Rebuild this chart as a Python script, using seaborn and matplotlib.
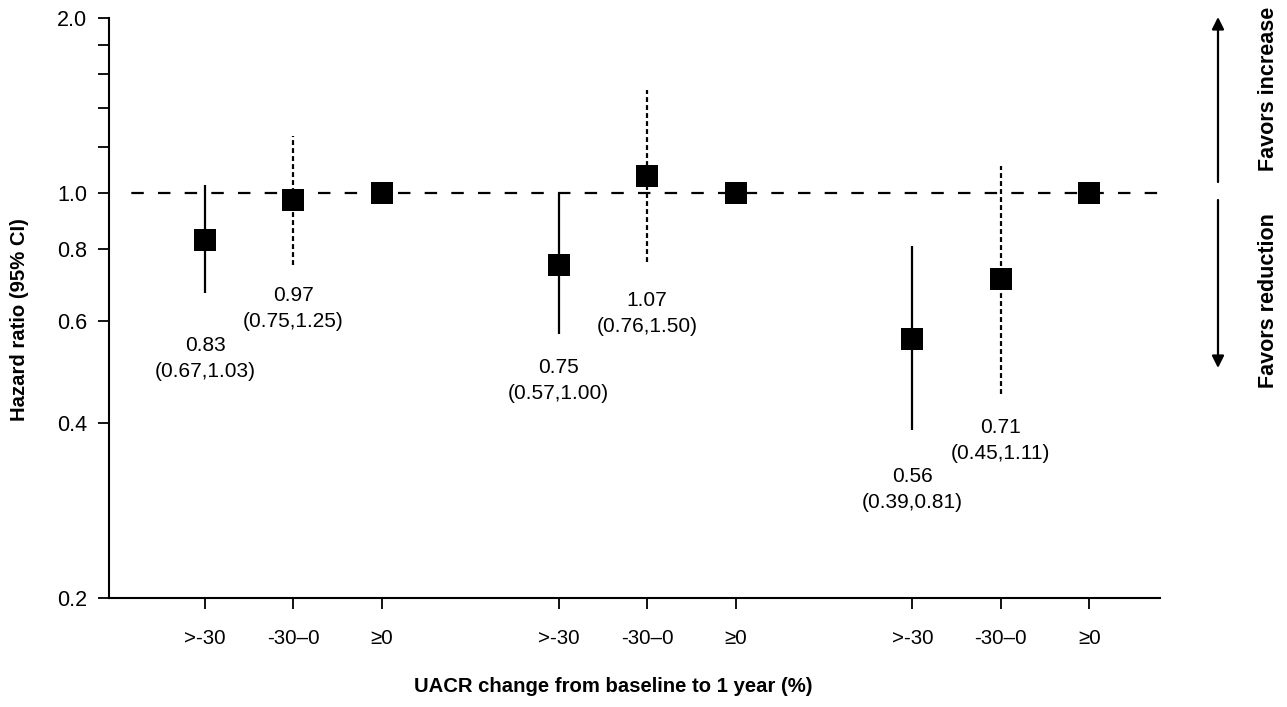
import matplotlib
matplotlib.use("Agg")
import matplotlib.pyplot as plt
import seaborn as sns
import pandas as pd
import numpy as np

# ---- data ----
categories = [">-30", "-30–0", "≥0"]
groups = ["A", "B", "C"]
hr = [0.83, 0.97, 1.00, 0.75, 1.07, 1.00, 0.56, 0.71, 1.00]
ci_low = [0.67, 0.75, np.nan, 0.57, 0.76, np.nan, 0.39, 0.45, np.nan]
ci_high = [1.03, 1.25, np.nan, 1.00, 1.50, np.nan, 0.81, 1.11, np.nan]
ytick_vals = [0.2, 0.4, 0.6, 0.8, 1.0, 1.2, 1.4, 1.6, 1.8, 2.0]
ytick_labels = ["0.2", "0.4", "0.6", "0.8", "1.0", "", "", "", "", "2.0"]

# ---- layout ----
pos = [g * 4 + c for g in range(len(groups)) for c in range(len(categories))]
cat_labels = categories * len(groups)
df = pd.DataFrame({"pos": pos, "hr": hr, "lo": ci_low, "hi": ci_high,
                   "cat": cat_labels})

sns.set_theme(style="ticks")
plt.rcParams["font.family"] = ["Liberation Sans", "DejaVu Sans"]
for key in ["text.color", "axes.labelcolor", "xtick.color", "ytick.color",
            "axes.edgecolor"]:
    plt.rcParams[key] = "black"

W, H = 1287, 707
fig = plt.figure(figsize=(W / 100, H / 100), dpi=100)
ax = fig.add_axes([109 / W, 1 - 598 / H, (1160 - 109) / W, (598 - 18) / H])
ax.set_yscale("log")
ax.set_ylim(0.2, 2.0)
ax.set_xlim(-1.086, 10.80)

# reference line
ax.hlines(1.0, -0.985, 10.80, colors="black", linewidth=1.6,
          linestyles=(6.0, (5.6, 6.4)), zorder=1)

# CI lines
for i, r in df.iterrows():
    if np.isnan(r["lo"]):
        continue
    ls = "-" if r["cat"] == categories[0] else (0, (2.2, 1.4))
    ax.vlines(r["pos"], r["lo"], r["hi"], colors="black", linewidth=1.6,
              linestyles=ls, zorder=2)

sns.scatterplot(data=df, x="pos", y="hr", marker="s", s=16 ** 2,
                color="black", edgecolor="black", linewidth=0, ax=ax,
                zorder=3, legend=False)

# value labels
offs = [52, 30, 33, 39, 47, 34]
k = 0
for i, r in df.iterrows():
    if np.isnan(r["lo"]):
        continue
    d = offs[k]
    k += 1
    ax.annotate(f"{r['hr']:.2f}", (r["pos"], r["lo"]), xytext=(0, -d),
                textcoords="offset pixels", ha="center", va="center",
                fontsize=15, color="black")
    ax.annotate(f"({r['lo']:.2f},{r['hi']:.2f})", (r["pos"], r["lo"]),
                xytext=(0, -d - 26), textcoords="offset pixels",
                ha="center", va="center", fontsize=15, color="black")

# axes styling
ax.set_yticks(ytick_vals)
ax.set_yticklabels(ytick_labels)
ax.yaxis.set_minor_locator(matplotlib.ticker.NullLocator())
ax.set_xticks(pos)
ax.set_xticklabels(cat_labels)
ax.tick_params(axis="both", direction="out", length=8, width=1.3,
               color="black", labelcolor="black")
ax.tick_params(axis="x", pad=14, labelsize=14.8)
ax.tick_params(axis="y", pad=7.5, labelsize=15.5)
for s in ["top", "right"]:
    ax.spines[s].set_visible(False)
for s in ["left", "bottom"]:
    ax.spines[s].set_color("black")
    ax.spines[s].set_linewidth(1.5)

ax.set_xlabel("")
ax.set_ylabel("")
fig.text(613 / W, 1 - 687 / H, "UACR change from baseline to 1 year (%)",
         ha="center", va="center", fontsize=14.6, fontweight="bold")
fig.text(20 / W, 1 - 320 / H, "Hazard ratio (95% CI)", rotation=90,
         ha="center", va="center", fontsize=14.6, fontweight="bold")

# favors arrows
ax_x = 1218 / W
ap = dict(arrowstyle="-|>", lw=1.6, color="black", mutation_scale=18,
          shrinkA=0, shrinkB=0)
fig.add_artist(matplotlib.patches.FancyArrowPatch(
    (ax_x, 1 - 182 / H), (ax_x, 1 - 17 / H), transform=fig.transFigure, **ap))
fig.add_artist(matplotlib.patches.FancyArrowPatch(
    (ax_x, 1 - 200 / H), (ax_x, 1 - 368 / H), transform=fig.transFigure, **ap))
fig.text(1268 / W, 1 - 89 / H, "Favors increase", rotation=90,
         ha="center", va="center", fontsize=15.5, fontweight="bold")
fig.text(1268 / W, 1 - 301 / H, "Favors reduction", rotation=90,
         ha="center", va="center", fontsize=15.5, fontweight="bold")

fig.savefig("out.png", dpi=100)
